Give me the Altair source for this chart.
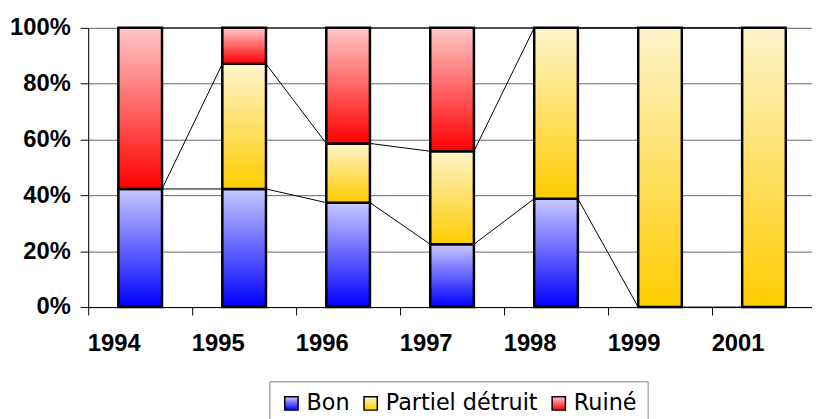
import altair as alt
import pandas as pd

years = ["1994", "1995", "1996", "1997", "1998", "1999", "2001"]
series_names = ["Bon", "Partiel détruit", "Ruiné"]
bon = [42.3, 42.3, 37.4, 22.5, 38.8, 0, 0]
partiel = [0, 44.8, 21.2, 33.3, 61.2, 100, 100]
ruine = [57.7, 12.9, 41.4, 44.2, 0, 0, 0]
y_ticks = [0, 0.2, 0.4, 0.6, 0.8, 1.0]

# gradient (bottom colour, top colour) per series
grad_colors = [("#0000ff", "#c8c8ff"), ("#ffcc00", "#fff4cc"), ("#ff0000", "#ffc8c8")]

values = [bon, partiel, ruine]

BAR_FRAC = 0.42

rows = []
for s_idx, (name, vals) in enumerate(zip(series_names, values)):
    for y, v in zip(years, vals):
        rows.append({"year": y, "series": name, "value": v, "order": s_idx})
bars_df = pd.DataFrame(rows)

# series lines: cumulative top of each series, from one bar's right edge to next bar's left edge
line_rows = []
cum = [0.0] * len(years)
for name, vals in zip(series_names, values):
    cum = [c + v for c, v in zip(cum, vals)]
    for i in range(len(years) - 1):
        line_rows.append({
            "series": name,
            "year": years[i],
            "next_year": years[i + 1],
            "top": cum[i] / 100.0,
            "next_top": cum[i + 1] / 100.0,
        })
lines_df = pd.DataFrame(line_rows)


def grad_expr(dark, light):
    return ("{gradient: 'linear', x1: 0, y1: 1, x2: 0, y2: 0, stops: ["
            "{offset: 0, color: '" + dark + "'}, {offset: 1, color: '" + light + "'}]}")


fill_range = [alt.ExprRef(grad_expr(d, l)) for d, l in grad_colors]

x_scale = alt.Scale(domain=years, paddingInner=0, paddingOuter=0)
y_scale = alt.Scale(domain=[0, 1])

x_axis = alt.Axis(
    title=None, labelAngle=0, labelFont="Liberation Sans", labelFontWeight="bold",
    labelFontSize=24, labelColor="black", labelPadding=29, tickBand="extent",
    tickSize=8, tickColor="black", domainColor="black", grid=False,
)
y_axis = alt.Axis(
    title=None, values=y_ticks, format=".0%", labelFont="Liberation Sans",
    labelFontWeight="bold", labelFontSize=24, labelColor="black", labelPadding=10,
    tickSize=8, tickColor="black", domainColor="black", grid=True,
    gridColor="#666666", gridWidth=1,
)

bars = alt.Chart(bars_df).transform_filter("datum.value > 0").mark_bar(
    stroke="black", strokeWidth=2.5, width=alt.RelativeBandSize(BAR_FRAC)
).encode(
    x=alt.X("year:N", scale=x_scale, axis=x_axis, sort=years),
    y=alt.Y("value:Q", stack="normalize", scale=y_scale, axis=y_axis),
    fill=alt.Fill(
        "series:N",
        scale=alt.Scale(domain=series_names, range=fill_range),
        legend=alt.Legend(
            title=None, orient="none", direction="horizontal", legendX=183, legendY=357,
            symbolType="square", symbolSize=180, symbolStrokeColor="black",
            symbolStrokeWidth=1.5, labelFont="DejaVu Sans", labelFontSize=22.5,
            labelColor="black", labelOffset=4, columnPadding=10, padding=11,
            strokeColor="#808080", fillColor="white", labelLimit=400,
        ),
    ),
    order=alt.Order("order:Q"),
)

lines = alt.Chart(lines_df).mark_rule(color="black", strokeWidth=1).encode(
    x=alt.X("year:N", scale=x_scale, bandPosition=0.5 + BAR_FRAC / 2, sort=years),
    x2=alt.X2("next_year", bandPosition=0.5 - BAR_FRAC / 2),
    y=alt.Y("top:Q", scale=y_scale),
    y2=alt.Y2("next_top"),
)

chart = alt.layer(lines, bars).properties(
    width=735, height=282,
    autosize=alt.AutoSizeParams(type="none"),
    padding={"left": 81, "top": 18, "right": -4, "bottom": 111},
).configure_view(strokeWidth=0).configure(background="white")

chart.save("out.html", embed_options={"renderer": "svg", "actions": False})
